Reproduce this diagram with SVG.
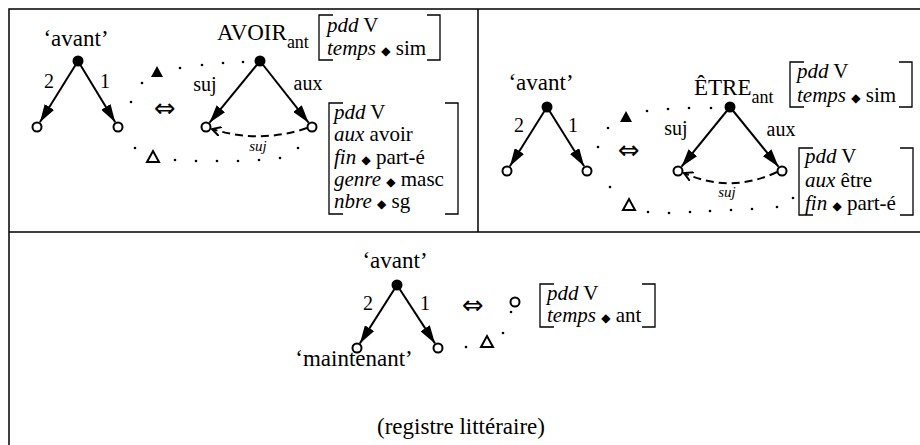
<svg xmlns="http://www.w3.org/2000/svg" width="920" height="445" viewBox="0 0 920 445">
<style>
text{font-family:'Liberation Serif',Tinos,'Times New Roman',Times,'DejaVu Serif','Noto Serif',serif;fill:#000}
.big{font-size:23px}
.sub{font-size:18px}
.lab{font-size:20px}
.br{font-size:21px}
.it{font-style:italic}
.sl{font-size:15px;font-style:italic}
.dia{font-family:'DejaVu Sans',sans-serif;font-size:12px}
.sym{font-family:'DejaVu Sans',sans-serif;font-size:26px}
.frame{stroke:#000;stroke-width:1.5;fill:none}
.edge{stroke:#000;stroke-width:2;fill:none}
.dash{stroke:#000;stroke-width:2;fill:none;stroke-dasharray:8 5}
.hn{fill:#fff;stroke:#000;stroke-width:2}
.fn{fill:#000}
.bk{stroke:#000;stroke-width:1.3;fill:none}
.dot{fill:#000}
.tri{fill:#000}
.otri{fill:#fff;stroke:#000;stroke-width:2}
</style>
<defs>
<marker id="ah" viewBox="0 0 18 11" refX="18" refY="5.5" markerWidth="18" markerHeight="11" markerUnits="userSpaceOnUse" orient="auto">
<path d="M0,0 L18,5.5 L0,11 z" fill="#000"/>
</marker>
<marker id="oh" viewBox="0 0 10 10" refX="9" refY="5" markerWidth="10" markerHeight="10" markerUnits="userSpaceOnUse" orient="auto">
<path d="M0,0 L9,5 L0,10" fill="none" stroke="#000" stroke-width="2"/>
</marker>
</defs>
<rect width="920" height="445" fill="#fff"/>
<g id="frame">
<path class="frame" d="M9,445 V9 H920 M478,9 V232 M9,232 H920"/>
</g>
<g id="connectors">
<line class="edge" x1="78" y1="61" x2="39.9" y2="122.3" marker-end="url(#ah)"/>
<line class="edge" x1="78" y1="61" x2="115.2" y2="122.3" marker-end="url(#ah)"/>
<line class="edge" x1="260" y1="61" x2="209.5" y2="122.7" marker-end="url(#ah)"/>
<line class="edge" x1="260" y1="61" x2="308.6" y2="122.7" marker-end="url(#ah)"/>
<path class="dash" d="M307,128 Q260,144 212,129" marker-end="url(#oh)"/>
<line class="edge" x1="547" y1="107" x2="509.9" y2="166.3" marker-end="url(#ah)"/>
<line class="edge" x1="547" y1="107" x2="584.1" y2="166.3" marker-end="url(#ah)"/>
<line class="edge" x1="730" y1="107" x2="681.5" y2="166.7" marker-end="url(#ah)"/>
<line class="edge" x1="730" y1="107" x2="778.5" y2="166.7" marker-end="url(#ah)"/>
<path class="dash" d="M777,172 Q730,194 684,173" marker-end="url(#oh)"/>
<line class="edge" x1="397" y1="285" x2="359.9" y2="343.4" marker-end="url(#ah)"/>
<line class="edge" x1="397" y1="285" x2="435" y2="343.4" marker-end="url(#ah)"/>
</g>
<g id="panel1-left">
<text class="big" x="76" y="46" text-anchor="middle">‘avant’</text>
<circle class="fn" cx="78" cy="61" r="5.5"/>
<circle class="hn" cx="37" cy="127" r="4.5"/>
<circle class="hn" cx="118" cy="127" r="4.5"/>
<text class="lab" x="49" y="88" text-anchor="middle">2</text>
<text class="lab" x="105" y="88" text-anchor="middle">1</text>
</g>
<g id="panel1-equiv">
<text class="sym" x="165" y="117" text-anchor="middle">⇔</text>
<polygon class="tri" points="151,77 157,66 163,77"/>
<polygon class="otri" points="147,162 153,151 159,162"/>
<g class="dot">
<circle cx="131" cy="102" r="1.3"/><circle cx="142" cy="83" r="1.3"/><circle cx="180" cy="68" r="1.3"/><circle cx="202" cy="65" r="1.3"/><circle cx="223" cy="63" r="1.3"/><circle cx="243" cy="62" r="1.3"/>
<circle cx="135" cy="148" r="1.3"/><circle cx="175" cy="160" r="1.3"/><circle cx="196" cy="161" r="1.3"/><circle cx="217" cy="161" r="1.3"/><circle cx="238" cy="161" r="1.3"/><circle cx="259" cy="160" r="1.3"/><circle cx="280" cy="158" r="1.3"/><circle cx="298" cy="148" r="1.3"/>
</g>
</g>
<g id="panel1-avoir">
<text class="big" x="217" y="40">AVOIR<tspan class="sub" dy="8">ant</tspan></text>
<circle class="fn" cx="260" cy="61" r="5.5"/>
<circle class="hn" cx="206" cy="127" r="4.5"/>
<circle class="hn" cx="312" cy="127" r="4.5"/>
<text class="lab" x="205" y="91" text-anchor="middle">suj</text>
<text class="lab" x="308" y="90" text-anchor="middle">aux</text>
<text class="sl" x="258" y="151" text-anchor="middle">suj</text>
</g>
<g id="panel1-avm1">
<path class="bk" d="M333,15 H319 V60 H333 M427,15 H440 V60 H427"/>
<text class="br" x="327" y="32"><tspan class="it">pdd</tspan> V</text>
<text class="br" x="327" y="55"><tspan class="it">temps</tspan> <tspan class="dia">◆</tspan> sim</text>
</g>
<g id="panel1-avm2">
<path class="bk" d="M343,103 H329 V214 H343 M445,103 H458 V214 H445"/>
<text class="br" x="334" y="119"><tspan class="it">pdd</tspan> V</text>
<text class="br" x="334" y="141"><tspan class="it">aux</tspan> avoir</text>
<text class="br" x="334" y="164"><tspan class="it">fin</tspan> <tspan class="dia">◆</tspan> part-é</text>
<text class="br" x="334" y="186"><tspan class="it">genre</tspan> <tspan class="dia">◆</tspan> masc</text>
<text class="br" x="334" y="208"><tspan class="it">nbre</tspan> <tspan class="dia">◆</tspan> sg</text>
</g>
<g id="panel2-left">
<text class="big" x="541" y="90" text-anchor="middle">‘avant’</text>
<circle class="fn" cx="547" cy="107" r="5.5"/>
<circle class="hn" cx="507" cy="171" r="4.5"/>
<circle class="hn" cx="587" cy="171" r="4.5"/>
<text class="lab" x="519" y="132" text-anchor="middle">2</text>
<text class="lab" x="573" y="132" text-anchor="middle">1</text>
</g>
<g id="panel2-equiv">
<text class="sym" x="629" y="159" text-anchor="middle">⇔</text>
<polygon class="tri" points="620,122 626,111 632,122"/>
<polygon class="otri" points="623,210 629,199 635,210"/>
<g class="dot">
<circle cx="598" cy="147" r="1.3"/><circle cx="608" cy="128" r="1.3"/><circle cx="647" cy="111" r="1.3"/><circle cx="668" cy="109" r="1.3"/><circle cx="689" cy="108" r="1.3"/><circle cx="711" cy="108" r="1.3"/>
<circle cx="610" cy="187" r="1.3"/><circle cx="648" cy="212" r="1.3"/><circle cx="669" cy="213" r="1.3"/><circle cx="690" cy="212" r="1.3"/><circle cx="710" cy="211" r="1.3"/><circle cx="731" cy="210" r="1.3"/><circle cx="752" cy="209" r="1.3"/><circle cx="777" cy="207" r="1.3"/><circle cx="793" cy="198" r="1.3"/>
</g>
</g>
<g id="panel2-etre">
<text class="big" x="694" y="95">ÊTRE<tspan class="sub" dy="8">ant</tspan></text>
<circle class="fn" cx="730" cy="107" r="5.5"/>
<circle class="hn" cx="678" cy="171" r="4.5"/>
<circle class="hn" cx="782" cy="171" r="4.5"/>
<text class="lab" x="676" y="135" text-anchor="middle">suj</text>
<text class="lab" x="781" y="136" text-anchor="middle">aux</text>
<text class="sl" x="727" y="197" text-anchor="middle">suj</text>
</g>
<g id="panel2-avm1">
<path class="bk" d="M804,62 H790 V107 H804 M899,62 H912 V107 H899"/>
<text class="br" x="797" y="78"><tspan class="it">pdd</tspan> V</text>
<text class="br" x="797" y="102"><tspan class="it">temps</tspan> <tspan class="dia">◆</tspan> sim</text>
</g>
<g id="panel2-avm2">
<path class="bk" d="M813,148 H799 V215 H813 M900,148 H913 V215 H900"/>
<text class="br" x="805" y="163"><tspan class="it">pdd</tspan> V</text>
<text class="br" x="805" y="187"><tspan class="it">aux</tspan> être</text>
<text class="br" x="805" y="210"><tspan class="it">fin</tspan> <tspan class="dia">◆</tspan> part-é</text>
</g>
<g id="panel3-left">
<text class="big" x="395" y="268" text-anchor="middle">‘avant’</text>
<circle class="fn" cx="397" cy="285" r="5.5"/>
<circle class="hn" cx="357" cy="348" r="4.5"/>
<circle class="hn" cx="438" cy="348" r="4.5"/>
<text class="lab" x="368" y="310" text-anchor="middle">2</text>
<text class="lab" x="425" y="310" text-anchor="middle">1</text>
<text class="big" x="354" y="366" text-anchor="middle">‘maintenant’</text>
</g>
<g id="panel3-equiv">
<text class="sym" x="473" y="314" text-anchor="middle">⇔</text>
<circle class="hn" cx="515" cy="302" r="4.5"/>
<polygon class="otri" points="481,347 487,336 493,347"/>
<g class="dot">
<circle cx="511" cy="312" r="1.3"/><circle cx="503" cy="333" r="1.3"/><circle cx="466" cy="347" r="1.3"/>
</g>
</g>
<g id="panel3-avm">
<path class="bk" d="M554,284 H540 V327 H554 M642,284 H655 V327 H642"/>
<text class="br" x="547" y="300"><tspan class="it">pdd</tspan> V</text>
<text class="br" x="547" y="322"><tspan class="it">temps</tspan> <tspan class="dia">◆</tspan> ant</text>
</g>
<g id="caption">
<text class="big" x="461" y="434" text-anchor="middle">(registre littéraire)</text>
</g>
</svg>
